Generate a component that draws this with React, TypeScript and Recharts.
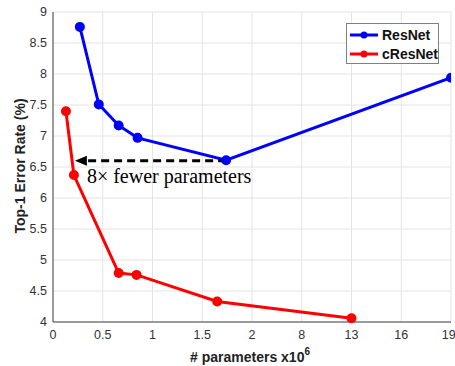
import { LineChart, Line, XAxis, YAxis, CartesianGrid, ReferenceLine, Label } from "recharts";

// x axis is broken: evenly spaced ticks with these values
const xTicks = [0, 0.5, 1, 1.5, 2, 8, 13, 16, 19];
const yTicks = [4, 4.5, 5, 5.5, 6, 6.5, 7, 7.5, 8, 8.5, 9];

const resnetParams = [0.27, 0.46, 0.66, 0.85, 1.74, 19];
const resnetError = [8.76, 7.51, 7.17, 6.97, 6.61, 7.94];
const cresnetParams = [0.13, 0.21, 0.66, 0.84, 1.65, 13];
const cresnetError = [7.4, 6.37, 4.79, 4.76, 4.33, 4.06];

// annotation: arrow from ResNet-110 to cResNet of same error
const arrowFrom = 1.74;
const arrowTo = 0.22;
const arrowY = 6.6;
const arrowText = "8\u00d7 fewer parameters";

const font = "'Liberation Sans', Arial, sans-serif";

function toPos(v: number) {
  for (let i = 0; i < xTicks.length - 1; i++) {
    if (v <= xTicks[i + 1]) return i + (v - xTicks[i]) / (xTicks[i + 1] - xTicks[i]);
  }
  return xTicks.length - 1;
}

const resnet = resnetParams.map((p, i) => ({ pos: toPos(p), err: resnetError[i] }));
const cresnet = cresnetParams.map((p, i) => ({ pos: toPos(p), err: cresnetError[i] }));

function Arrow(props: any) {
  const { x1, y1, x2 } = props;
  const y = y1;
  return (
    <g>
      <line x1={x1} y1={y} x2={x2 + 9} y2={y} stroke="#000" strokeWidth={3} strokeDasharray="8 5" />
      <polygon points={`${x2},${y} ${x2 + 12},${y - 5} ${x2 + 12},${y + 5}`} fill="#000" />
      <text x={x2 + 12} y={y + 22} fontFamily="'Liberation Serif', 'Times New Roman', serif" fontSize={20} fill="#000">
        {arrowText}
      </text>
    </g>
  );
}

function LegendRow(props: { top: number; color: string; name: string }) {
  return (
    <div style={{ position: "absolute", left: 2, top: props.top, height: 14, display: "flex", alignItems: "center" }}>
      <svg width={30} height={10}>
        <line x1={1} y1={5} x2={29} y2={5} stroke={props.color} strokeWidth={3} />
        <circle cx={15} cy={5} r={3.5} fill={props.color} />
      </svg>
      <span style={{ marginLeft: 3, fontFamily: font, fontWeight: "bold", fontSize: 14, color: "#111" }}>{props.name}</span>
    </div>
  );
}

export default function App() {
  return (
    <div style={{ position: "absolute", left: 0, top: 0, width: 455, height: 366, background: "#fff" }}>
      <LineChart width={455} height={366} margin={{ top: 12, right: 4, left: 13, bottom: 0 }}>
        <CartesianGrid stroke="#e4e4e4" />
        <XAxis
          type="number"
          dataKey="pos"
          domain={[0, xTicks.length - 1]}
          ticks={xTicks.map((_, i) => i)}
          tickFormatter={(v: number) => String(xTicks[v])}
          height={44}
          tickSize={0}
          tickMargin={8}
          stroke="#444"
          tick={{ fill: "#333", fontSize: 12.5, fontFamily: font }}
          allowDataOverflow
        >
          <Label
            content={() => (
              <text x={250} y={357} textAnchor="middle" dominantBaseline="central" fontFamily={font} fontWeight="bold" fontSize={14} fill="#222">
                # parameters x10
                <tspan dy={-6} fontSize={10}>6</tspan>
              </text>
            )}
          />
        </XAxis>
        <YAxis
          type="number"
          domain={[4, 9]}
          ticks={yTicks}
          width={40}
          tickSize={0}
          tickMargin={6}
          stroke="#444"
          tick={{ fill: "#333", fontSize: 12.5, fontFamily: font }}
        >
          <Label
            content={() => (
              <text x={20} y={166} transform="rotate(-90, 20, 166)" textAnchor="middle" dominantBaseline="central" fontFamily={font} fontWeight="bold" fontSize={14} fill="#222">
                Top-1 Error Rate (%)
              </text>
            )}
          />
        </YAxis>
        <Line data={resnet} dataKey="err" stroke="#0000ff" strokeWidth={3} dot={{ r: 3.5, fill: "#0000ff", stroke: "#0000ff" }} isAnimationActive={false} />
        <Line data={cresnet} dataKey="err" stroke="#ff0000" strokeWidth={3} dot={{ r: 3.5, fill: "#ff0000", stroke: "#ff0000" }} isAnimationActive={false} />
        <ReferenceLine
          segment={[
            { x: toPos(arrowFrom), y: arrowY },
            { x: toPos(arrowTo), y: arrowY },
          ]}
          shape={Arrow}
          ifOverflow="visible"
        />
      </LineChart>
      <div style={{ position: "absolute", left: 346, top: 23, width: 91, height: 39, border: "1px solid #808080", background: "#fff" }}>
        <LegendRow top={4} color="#0000ff" name="ResNet" />
        <LegendRow top={23} color="#ff0000" name="cResNet" />
      </div>
    </div>
  );
}
